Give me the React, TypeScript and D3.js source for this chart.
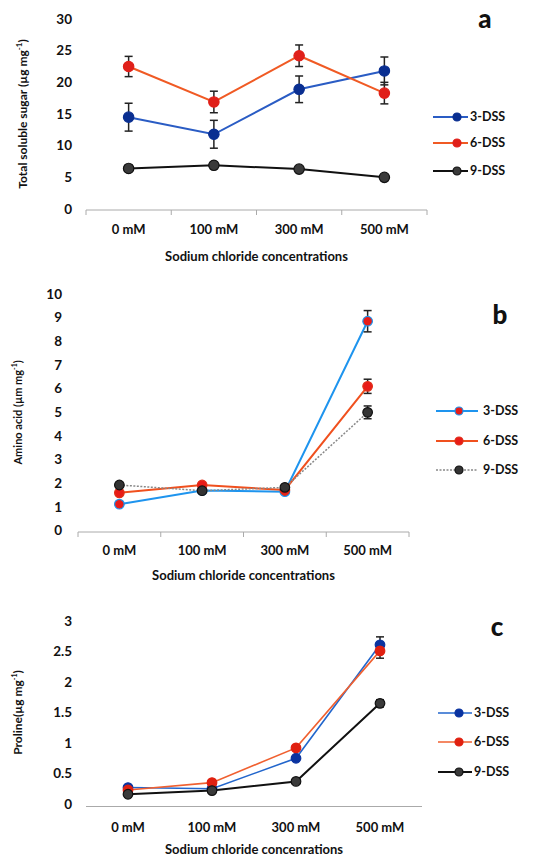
import React from "react";
import { scaleBand, scaleLinear, line, range } from "d3";

// categories shared by all three panels
const concentrations = ["0 mM", "100 mM", "300 mM", "500 mM"];
const seriesNames = ["3-DSS", "6-DSS", "9-DSS"];

// panel a - total soluble sugar
const sugar3 = [14.5, 11.8, 18.9, 21.8];
const sugar6 = [22.5, 16.9, 24.2, 18.3];
const sugar9 = [6.4, 6.9, 6.3, 5.0];
const sugarErr3 = [2.2, 2.2, 2.1, 2.2];
const sugarErr6 = [1.6, 1.7, 1.7, 1.7];
const sugarErr9 = [0, 0, 0, 0];

// panel b - amino acid
const amino3 = [1.12, 1.7, 1.65, 8.85];
const amino6 = [1.6, 1.93, 1.72, 6.1];
const amino9 = [1.93, 1.69, 1.83, 5.0];
const aminoErr3 = [0, 0, 0, 0.45];
const aminoErr6 = [0, 0, 0, 0.3];
const aminoErr9 = [0, 0, 0, 0.27];

// panel c - proline
const proline3 = [0.27, 0.25, 0.75, 2.61];
const proline6 = [0.23, 0.35, 0.92, 2.51];
const proline9 = [0.16, 0.22, 0.37, 1.65];
const prolineErr3 = [0, 0, 0, 0.13];
const prolineErr6 = [0, 0, 0, 0.12];
const prolineErr9 = [0, 0, 0, 0.06];

const FONT = "Lato, 'Open Sans', sans-serif";

type Style = { line: string; fill: string; stroke: string; dash?: string; width: number };

type PanelProps = {
  label: string;
  labelPos: [number, number];
  yTitle: React.ReactNode;
  yTitleX: number;
  yTitleFont: number;
  xTitle: string;
  xTitleY: number;
  xRange: [number, number];
  yRange: [number, number];
  yMax: number;
  yStep: number;
  tickRight: number;
  axisY: number;
  showTicks: boolean;
  labelY: number;
  values: number[][];
  errors: number[][];
  styles: Style[];
  r: number;
  legend: { x1: number; x2: number; mx: number; tx: number; ys: number[] };
};

function Panel(p: PanelProps) {
  const x = scaleBand<string>().domain(concentrations).range(p.xRange).padding(0);
  const y = scaleLinear().domain([0, p.yMax]).range(p.yRange);
  const ticks = range(0, p.yMax + p.yStep / 2, p.yStep);
  const cx = (c: string) => (x(c) as number) + x.bandwidth() / 2;
  const gen = line<number>()
    .x((_, i) => cx(concentrations[i]))
    .y((d) => y(d));
  const bounds = [...concentrations.map((c) => x(c) as number), p.xRange[1]];
  const midY = (p.yRange[0] + p.yRange[1]) / 2;

  return (
    <g fontFamily={FONT} fontWeight="bold" fill="#111">
      {/* y tick labels */}
      {ticks.map((t) => (
        <text key={t} x={p.tickRight} y={y(t)} dy="0.35em" textAnchor="end" fontSize={13.5}>
          {+t.toFixed(2)}
        </text>
      ))}
      {/* x axis */}
      <line x1={p.xRange[0]} x2={p.xRange[1]} y1={p.axisY} y2={p.axisY} stroke="#aaa" strokeWidth={1} />
      {p.showTicks &&
        bounds.map((b, i) => (
          <line key={i} x1={b} x2={b} y1={p.axisY} y2={p.axisY + 5} stroke="#aaa" strokeWidth={1} />
        ))}
      {concentrations.map((c) => (
        <text key={c} x={cx(c)} y={p.labelY} dy="0.35em" textAnchor="middle" fontSize={13}>
          {c}
        </text>
      ))}
      <text x={(p.xRange[0] + p.xRange[1]) / 2} y={p.xTitleY} dy="0.35em" textAnchor="middle" fontSize={13}>
        {p.xTitle}
      </text>
      <text
        transform={`translate(${p.yTitleX},${midY}) rotate(-90)`}
        dy="0.35em"
        textAnchor="middle"
        fontSize={p.yTitleFont}
      >
        {p.yTitle}
      </text>
      <text x={p.labelPos[0]} y={p.labelPos[1]} dy="0.35em" textAnchor="middle" fontSize={26} fontWeight={900}>
        {p.label}
      </text>

      {/* series lines */}
      {p.values.map((vals, s) => (
        <path
          key={"l" + s}
          d={gen(vals) || ""}
          fill="none"
          stroke={p.styles[s].line}
          strokeWidth={p.styles[s].width}
          strokeDasharray={p.styles[s].dash}
        />
      ))}
      {/* error bars */}
      {p.values.map((vals, s) =>
        vals.map((v, i) => {
          const e = p.errors[s][i];
          if (!e) return null;
          const px = cx(concentrations[i]);
          return (
            <g key={"e" + s + i} stroke="#222" strokeWidth={1.5}>
              <line x1={px} x2={px} y1={y(v - e)} y2={y(v + e)} />
              <line x1={px - 4} x2={px + 4} y1={y(v - e)} y2={y(v - e)} />
              <line x1={px - 4} x2={px + 4} y1={y(v + e)} y2={y(v + e)} />
            </g>
          );
        })
      )}
      {/* markers */}
      {p.values.map((vals, s) =>
        vals.map((v, i) => (
          <circle
            key={"m" + s + i}
            cx={cx(concentrations[i])}
            cy={y(v)}
            r={p.r}
            fill={p.styles[s].fill}
            stroke={p.styles[s].stroke}
            strokeWidth={1.2}
          />
        ))
      )}
      {/* legend */}
      {seriesNames.map((n, s) => (
        <g key={n}>
          <line
            x1={p.legend.x1}
            x2={p.legend.x2}
            y1={p.legend.ys[s]}
            y2={p.legend.ys[s]}
            stroke={p.styles[s].line}
            strokeWidth={p.styles[s].width}
            strokeDasharray={p.styles[s].dash}
          />
          <circle
            cx={p.legend.mx}
            cy={p.legend.ys[s]}
            r={4}
            fill={p.styles[s].fill}
            stroke={p.styles[s].stroke}
            strokeWidth={1.2}
          />
          <text x={p.legend.tx} y={p.legend.ys[s]} dy="0.35em" fontSize={12.5}>
            {n}
          </text>
        </g>
      ))}
    </g>
  );
}

const stylesA: Style[] = [
  { line: "#2a5cc4", fill: "#0a2f91", stroke: "#0a2f91", width: 2 },
  { line: "#f05a24", fill: "#e0201a", stroke: "#e0201a", width: 2 },
  { line: "#111", fill: "#3a3a3a", stroke: "#111", width: 2 },
];
const stylesB: Style[] = [
  { line: "#1e94ee", fill: "#e81c18", stroke: "#1e94ee", width: 2 },
  { line: "#f0501e", fill: "#e81c18", stroke: "#e0301a", width: 2 },
  { line: "#888", fill: "#333", stroke: "#111", width: 1.5, dash: "2,1.5" },
];
const stylesC: Style[] = [
  { line: "#2266cc", fill: "#0a33a0", stroke: "#0a33a0", width: 1.6 },
  { line: "#f06030", fill: "#e02010", stroke: "#e02010", width: 1.6 },
  { line: "#111", fill: "#3a3a3a", stroke: "#111", width: 2 },
];

export default function App() {
  return (
    <svg
      width={543}
      height={858}
      style={{ position: "absolute", left: 0, top: 0, background: "#fff" }}
    >
      <Panel
        label="a"
        labelPos={[485, 19]}
        yTitle={
          <>
            Total soluble sugar (µg mg<tspan dy="-5" fontSize={8}>-1</tspan>
            <tspan dy="5">)</tspan>
          </>
        }
        yTitleX={23}
        yTitleFont={12}
        xTitle="Sodium chloride concentrations"
        xTitleY={256}
        xRange={[86, 427]}
        yRange={[209, 19]}
        yMax={30}
        yStep={5}
        tickRight={72}
        axisY={210}
        showTicks={true}
        labelY={229}
        values={[sugar3, sugar6, sugar9]}
        errors={[sugarErr3, sugarErr6, sugarErr9]}
        styles={stylesA}
        r={5.2}
        legend={{ x1: 433, x2: 468, mx: 457, tx: 470, ys: [117, 143, 171] }}
      />
      <Panel
        label="b"
        labelPos={[500, 315]}
        yTitle={
          <>
            Amino acid (µm mg<tspan dy="-5" fontSize={7}>-1</tspan>
            <tspan dy="5">)</tspan>
          </>
        }
        yTitleX={18}
        yTitleFont={11}
        xTitle="Sodium chloride concentrations"
        xTitleY={575}
        xRange={[78, 409]}
        yRange={[530.7, 294]}
        yMax={10}
        yStep={1}
        tickRight={62}
        axisY={532}
        showTicks={true}
        labelY={550}
        values={[amino3, amino6, amino9]}
        errors={[aminoErr3, aminoErr6, aminoErr9]}
        styles={stylesB}
        r={4.8}
        legend={{ x1: 436, x2: 478, mx: 459, tx: 483, ys: [411, 441, 470] }}
      />
      <Panel
        label="c"
        labelPos={[497, 627]}
        yTitle={
          <>
            Proline(µg mg<tspan dy="-5" fontSize={7}>-1</tspan>
            <tspan dy="5">)</tspan>
          </>
        }
        yTitleX={18}
        yTitleFont={12}
        xTitle="Sodium chloride concenrations"
        xTitleY={849}
        xRange={[86, 422]}
        yRange={[804, 621]}
        yMax={3}
        yStep={0.5}
        tickRight={72}
        axisY={806.5}
        showTicks={false}
        labelY={827}
        values={[proline3, proline6, proline9]}
        errors={[prolineErr3, prolineErr6, prolineErr9]}
        styles={stylesC}
        r={4.8}
        legend={{ x1: 438, x2: 472, mx: 459, tx: 474, ys: [713, 742, 772] }}
      />
    </svg>
  );
}
